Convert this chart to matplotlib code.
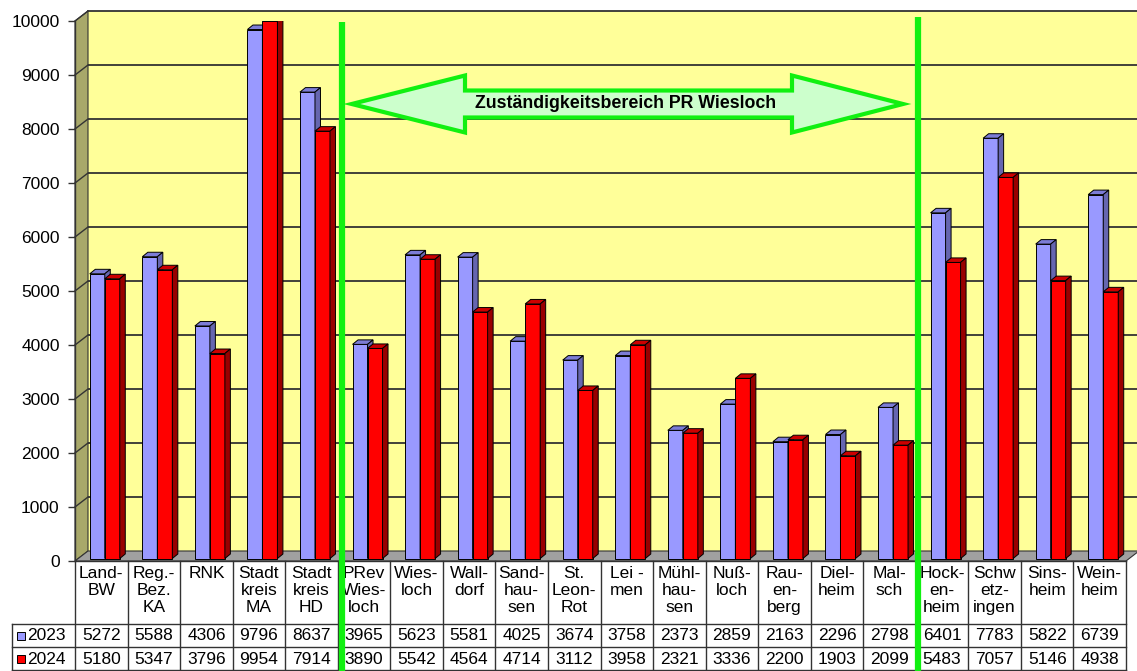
import matplotlib.pyplot as plt
import matplotlib.patches as mpatches
import numpy as np

plt.rcParams['font.family'] = ['Liberation Sans', 'DejaVu Sans']

# categories (table header, with the line breaks of the original)
categories = [
    'Land-\nBW', 'Reg.-\nBez.\nKA', 'RNK', 'Stadt\nkreis\nMA', 'Stadt\nkreis\nHD',
    'PRev\nWies-\nloch', 'Wies-\nloch', 'Wall-\ndorf', 'Sand-\nhau-\nsen', 'St.\nLeon-\nRot',
    'Lei -\nmen', 'Mühl-\nhau-\nsen', 'Nuß-\nloch', 'Rau-\nen-\nberg', 'Diel-\nheim',
    'Mal-\nsch', 'Hock-\nen-\nheim', 'Schw\netz-\ningen', 'Sins-\nheim', 'Wein-\nheim',
]
series_names = ['2023', '2024']
values_2023 = [5272, 5588, 4306, 9796, 8637, 3965, 5623, 5581, 4025, 3674,
               3758, 2373, 2859, 2163, 2296, 2798, 6401, 7783, 5822, 6739]
values_2024 = [5180, 5347, 3796, 9954, 7914, 3890, 5542, 4564, 4714, 3112,
               3958, 2321, 3336, 2200, 1903, 2099, 5483, 7057, 5146, 4938]
y_ticks = list(range(0, 10001, 1000))
arrow_label = 'Zuständigkeitsbereich PR Wiesloch'

# colours: front, top, side
blue = ('#9999ff', '#7c7cd6', '#6666b0')
red = ('#ff0000', '#cc0000', '#990000')
green = '#11f011'

W, H = 1137, 671
fig = plt.figure(figsize=(W / 100, H / 100), dpi=100)

# front plane of the plot in pixels
X0, X1, Y0, YTOP = 75, 1126, 561, 21
n = len(categories)
ymax = 10000
ax = fig.add_axes([X0 / W, (H - Y0) / H, (X1 - X0) / W, (Y0 - YTOP) / H])
ax.set_xlim(0, n)
ax.set_ylim(0, ymax)
ax.patch.set_alpha(0)

colw = (X1 - X0) / n
ppv = (Y0 - YTOP) / ymax


def px_x(p):
    return p / colw


def px_y(p):
    return p / ppv


def at_x(xp):
    return (xp - X0) / colw


def at_y(yp):
    return (Y0 - yp) / ppv


# walls and floor (depth offset 13px right, 10px up)
wx, wy = px_x(13), px_y(10)
xr = n + wx + 1
ax.add_patch(mpatches.Polygon([(wx, wy), (xr, wy), (xr, ymax + wy), (wx, ymax + wy)],
                              closed=True, fc='#ffff99', ec='none', zorder=0, clip_on=False))
ax.add_patch(mpatches.Polygon([(0, 0), (wx, wy), (wx, ymax + wy), (0, ymax)],
                              closed=True, fc='#a8a86a', ec='#333333', lw=0.8, zorder=1, clip_on=False))
ax.add_patch(mpatches.Polygon([(0, 0), (n, 0), (n + wx, wy), (wx, wy)],
                              closed=True, fc='#a0a0a0', ec='#333333', lw=0.8, zorder=1, clip_on=False))
for t in y_ticks[1:]:
    ax.plot([wx, xr], [t + wy, t + wy], color='#333333', lw=1.3, zorder=0.5, clip_on=False)
    ax.plot([0, wx], [t, t + wy], color='#333333', lw=1.0, zorder=1.5, clip_on=False)
ax.plot([0, 0], [0, ymax], color='#333333', lw=1.0, zorder=1.5, clip_on=False)

# bars with top and side faces
bw = px_x(15)
ox, oy = px_x(3.5), px_y(2.5)
sx, sy = px_x(5.5), px_y(4.5)
idx = np.arange(n)
z = 2
for i in idx:
    for vals, cols, shift in ((values_2023, blue, -bw), (values_2024, red, 0.0)):
        x = i + 0.5 + ox + shift
        h = vals[i]
        ax.bar(x, h, width=bw, bottom=oy, align='edge', color=cols[0],
               edgecolor='black', lw=0.7, zorder=z)
        top = h + oy
        ax.add_patch(mpatches.Polygon([(x, top), (x + bw, top), (x + bw + sx, top + sy), (x + sx, top + sy)],
                                      closed=True, fc=cols[1], ec='black', lw=0.7, zorder=z))
        ax.add_patch(mpatches.Polygon([(x + bw, oy), (x + bw + sx, oy + sy), (x + bw + sx, top + sy), (x + bw, top)],
                                      closed=True, fc=cols[2], ec='black', lw=0.7, zorder=z))
        z += 0.01

# axes styling
for s in ['top', 'right', 'bottom', 'left']:
    ax.spines[s].set_visible(False)
ax.set_xticks([])
ax.set_yticks(y_ticks)
ax.tick_params(axis='y', direction='out', length=5, width=1, color='#333333',
               labelsize=12.5, pad=6)

# data table below the plot
tl = at_x(12)
r1, r2, r3 = at_y(624), at_y(647), at_y(670)
tkw = dict(color='#333333', lw=1, clip_on=False, zorder=3)
ax.plot([0, n], [0, 0], **tkw)
for yy in (r1, r2, r3):
    ax.plot([tl, n], [yy, yy], **tkw)
for b in range(n + 1):
    ax.plot([b, b], [0, r3], **tkw)
ax.plot([tl, tl], [r1, r3], **tkw)

for i, lab in enumerate(categories):
    ax.text(i + 0.5, at_y(566), lab, ha='center', va='top', fontsize=12.5,
            linespacing=1.17, clip_on=False)
for row_y, vals, cols, name in ((at_y(636), values_2023, blue, series_names[0]),
                                (at_y(659), values_2024, red, series_names[1])):
    for i, v in enumerate(vals):
        ax.text(i + 0.5, row_y, str(v), ha='center', va='center', fontsize=12.5, clip_on=False)
    ax.add_patch(mpatches.Rectangle((at_x(17), row_y - px_y(4)), px_x(8), px_y(8),
                                    fc=cols[0], ec='black', lw=0.7, clip_on=False, zorder=3))
    ax.text(at_x(27.5), row_y, name, ha='left', va='center', fontsize=12.5, clip_on=False)

# green separators
for xp, ytop in ((342, 21.7), (917.5, 17.3)):
    ax.plot([at_x(xp), at_x(xp)], [at_y(ytop), at_y(H + 2)], color=green, lw=4.5,
            solid_capstyle='butt', clip_on=False, zorder=10)

# double arrow
ycen, sh_half, hd_half = 104, 13.5, 28.5
pts = [(351.7, ycen), (465, ycen - hd_half), (465, ycen - sh_half), (792, ycen - sh_half),
       (792, ycen - hd_half), (903, ycen), (792, ycen + hd_half), (792, ycen + sh_half),
       (465, ycen + sh_half), (465, ycen + hd_half)]
ax.add_patch(mpatches.Polygon([(at_x(a), at_y(b)) for a, b in pts], closed=True,
                              fc='#ccffcc', ec=green, lw=3, joinstyle='miter',
                              clip_on=False, zorder=11))
ax.text(at_x(626), at_y(ycen), arrow_label, ha='center', va='center', fontsize=12.8,
        fontweight='bold', clip_on=False, zorder=12)

fig.savefig('out.png', dpi=100)
